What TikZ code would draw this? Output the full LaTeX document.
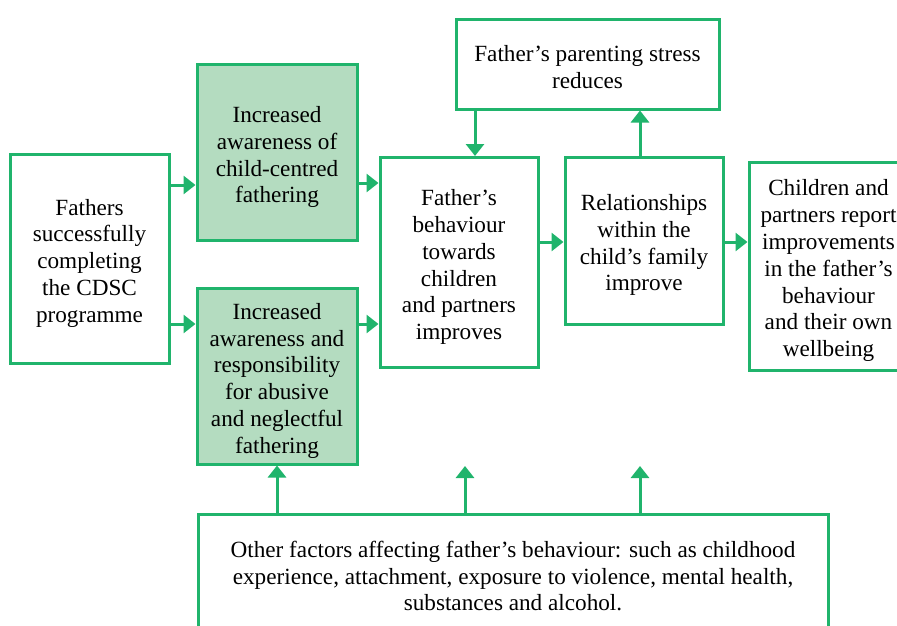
\documentclass[tikz,border=0pt]{standalone}
\usepackage{fontspec}
\setmainfont{Liberation Serif}
\usetikzlibrary{arrows.meta}
\definecolor{gline}{RGB}{32,180,108}
\definecolor{gfill}{RGB}{180,220,192}
\newcommand\tstrut{\rule{0pt}{25.5pt}}
\newcommand\fstrut{\rule{0pt}{21.5pt}}
\begin{document}
\begin{tikzpicture}[x=1pt,y=-1pt,
  box/.style={draw=gline, line width=3pt, fill=white, align=center, inner sep=0pt,
    font=\fontsize{23.2}{26.8}\selectfont, text=black},
  gbox/.style={box, fill=gfill},
  arr/.style={draw=gline, line width=3pt, -{Triangle[width=18pt,length=12pt]}}]
\useasboundingbox (0,0) rectangle (897,626);
\node[box, minimum width=159pt, minimum height=209pt] (A) at (89.5,258.5)
  {\tstrut Fathers\\successfully\\completing\\the CDSC\\programme};
\node[gbox, minimum width=160pt, minimum height=175pt] (B) at (277,152.5)
  {\tstrut Increased\\awareness of\\child-centred\\fathering};
\node[gbox, minimum width=160pt, minimum height=176pt] (C) at (277,376)
  {\tstrut Increased\\awareness and\\responsibility\\for abusive\\and neglectful\\fathering};
\node[box, minimum width=158pt, minimum height=210pt] (D) at (459,262.5)
  {\tstrut Father’s\\behaviour\\towards\\children\\and partners\\improves};
\node[box, minimum width=158pt, minimum height=167pt] (E) at (644,240.5)
  {\tstrut Relationships\\within the\\child’s family\\improve};
\node[box, minimum width=263pt, minimum height=89pt] (F) at (587.5,64.5)
  {\fstrut Father’s parenting stress\\reduces};
\node[box, minimum width=159pt, minimum height=208pt] (G) at (828.5,266)
  {\tstrut Children and\\partners report\\improvements\\in the father’s\\behaviour\\and their own\\wellbeing};
\node[box, minimum width=630pt, minimum height=124pt] (H) at (513,576)
  {Other factors affecting father’s behaviour: such as childhood\\experience, attachment, exposure to violence, mental health,\\substances and alcohol.};
\coordinate (ya) at (0,185);
\coordinate (yb) at (0,324);
\coordinate (yc) at (0,183);
\coordinate (yd) at (0,242);
\coordinate (xa) at (475,0);
\coordinate (xb) at (640,0);
\coordinate (t1) at (465,466);
\coordinate (t2) at (640,466);
\draw[arr] (A.east |- ya) -- (B.west |- ya);
\draw[arr] (A.east |- yb) -- (C.west |- yb);
\draw[arr] (B.east |- yc) -- (D.west |- yc);
\draw[arr] (C.east |- yb) -- (D.west |- yb);
\draw[arr] (D.east |- yd) -- (E.west |- yd);
\draw[arr] (E.east |- yd) -- (G.west |- yd);
\draw[arr] (F.south -| xa) -- (D.north -| xa);
\draw[arr] (E.north -| xb) -- (F.south -| xb);
\draw[arr] (H.north -| C) -- (C.south);
\draw[arr] (H.north -| t1) -- (t1);
\draw[arr] (H.north -| t2) -- (t2);
\end{tikzpicture}
\end{document}
